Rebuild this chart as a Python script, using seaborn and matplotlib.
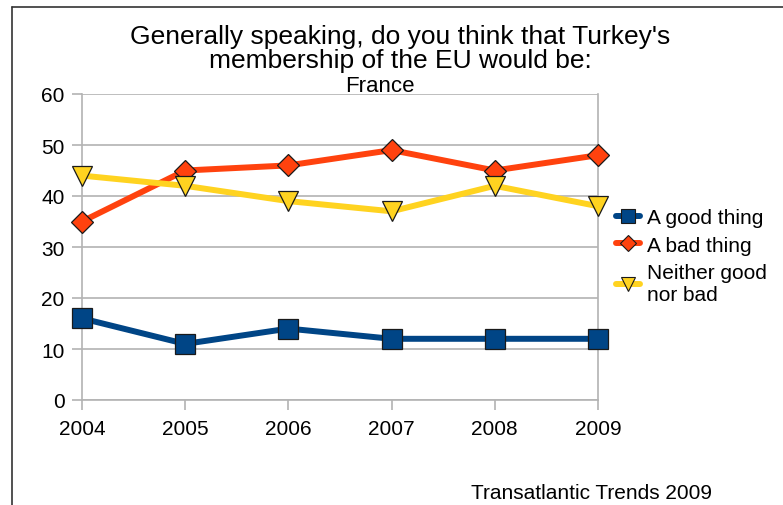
import matplotlib
matplotlib.use("Agg")
import matplotlib.pyplot as plt
import seaborn as sns
import pandas as pd
from matplotlib.lines import Line2D

years = [2004, 2005, 2006, 2007, 2008, 2009]
good = [16, 11, 14, 12, 12, 12]
bad = [35, 45, 46, 49, 45, 48]
neither = [44, 42, 39, 37, 42, 38]
labels = ["A good thing", "A bad thing", "Neither good\nnor bad"]
colors = ["#004586", "#ff420e", "#ffd320"]
markers = ["s", "D", "v"]
msizes = [14, 11, 14]

sns.set_style("white")
plt.rcParams["font.family"] = ["Liberation Sans", "DejaVu Sans"]
plt.rcParams["text.color"] = "black"

fig = plt.figure(figsize=(7.83, 5.06), dpi=100)
ax = fig.add_axes([82 / 783, 105 / 506, 516 / 783, 306 / 506])

grey = "#b3b3b3"
handles = []
for vals, lab, col, mk, ms in zip([good, bad, neither], labels, colors, markers, msizes):
    df = pd.DataFrame({"year": years, "value": vals})
    sns.lineplot(data=df, x="year", y="value", ax=ax, color=col, linewidth=4.3,
                 marker=mk, markersize=ms, markeredgecolor="#1a1a1a",
                 markeredgewidth=0.9, markerfacecolor=col, clip_on=False, zorder=3)
    handles.append(Line2D([0], [0], color=col, linewidth=4.3, marker=mk,
                          markersize=ms * 0.75, markeredgecolor="#1a1a1a",
                          markeredgewidth=0.8, markerfacecolor=col))

ax.set_xlim(2004, 2009)
ax.set_ylim(0, 60)
ax.set_xticks(years)
ax.set_xticklabels([str(y) for y in years])
ax.set_yticks(range(0, 61, 10))
ax.set_xlabel("")
ax.set_ylabel("")
ax.yaxis.grid(True, color=grey, linewidth=1.2)
ax.set_axisbelow(True)
for s in ["left", "right", "bottom"]:
    ax.spines[s].set_visible(True)
    ax.spines[s].set_color(grey)
    ax.spines[s].set_linewidth(1.2)
ax.spines["top"].set_visible(False)
ax.tick_params(axis="both", which="major", labelsize=15, colors=grey,
               labelcolor="black", length=7.5, width=1.2, direction="out",
               left=True, bottom=True)
ax.tick_params(axis="x", pad=6)
ax.tick_params(axis="y", pad=5)

fig.text(400 / 783, 1 - 49 / 506,
         "Generally speaking, do you think that Turkey's\nmembership of the EU would be:",
         ha="center", va="center", fontsize=19, linespacing=1.0, color="black")
fig.text(380 / 783, 1 - 86 / 506, "France", ha="center", va="center", fontsize=16,
         color="black")
fig.text(471 / 783, 1 - 494 / 506, "Transatlantic Trends 2009",
         ha="left", va="center", fontsize=15, color="black")

fig.legend(handles, labels, loc="upper left", bbox_to_anchor=(608 / 783, 1 - 201 / 506),
           frameon=False, fontsize=15, handlelength=1.15, handletextpad=0.3,
           labelspacing=0.4, borderaxespad=0, labelcolor="black")

# frame lines along the top and left edges
fig.add_artist(Line2D([12 / 783, 1], [1 - 8 / 506, 1 - 8 / 506], color="#333333", linewidth=1.2))
fig.add_artist(Line2D([12 / 783, 12 / 783], [0, 1 - 8 / 506], color="#333333", linewidth=1.2))

fig.savefig("out.png", dpi=100, facecolor="white")
